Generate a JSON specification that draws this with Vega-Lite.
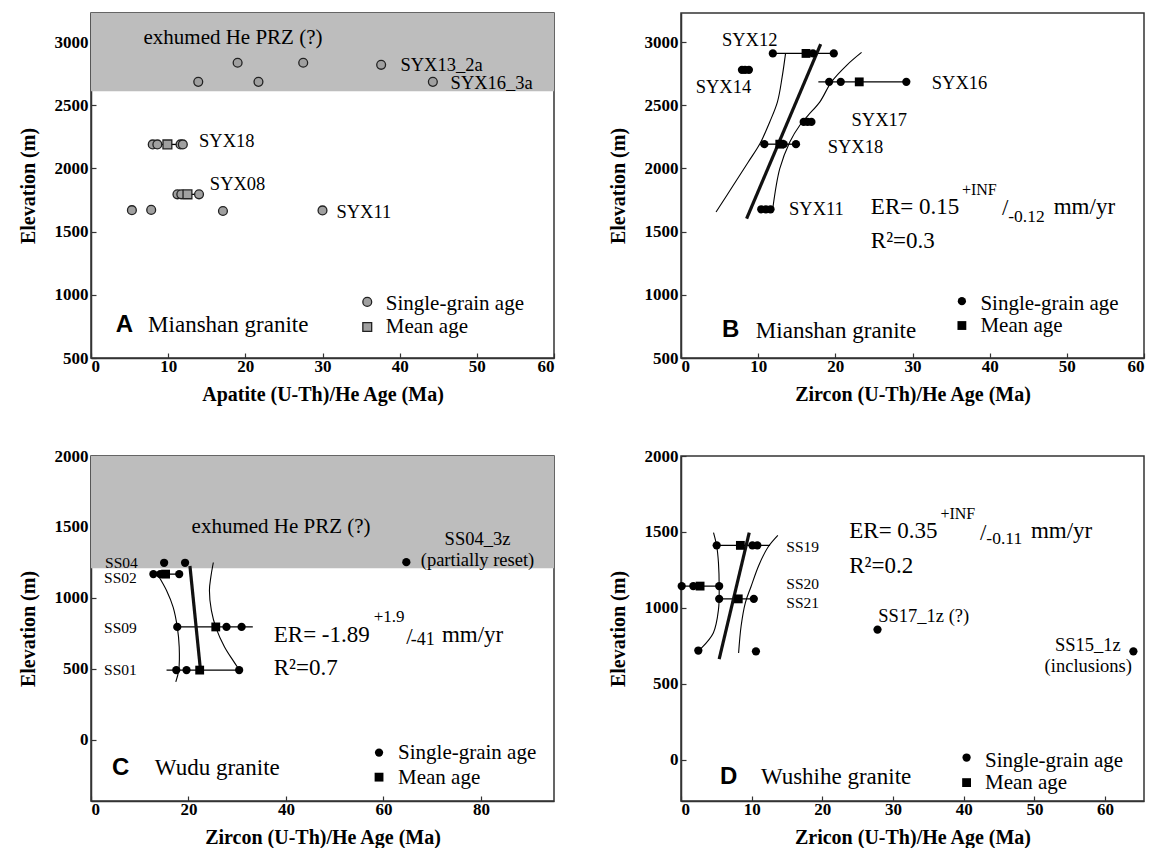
{
"$schema": "https://vega.github.io/schema/vega-lite/v6.json",
"padding": {"left": 17, "top": 12, "right": 0, "bottom": 0},
"background": "white",
"config": {
  "font": "Liberation Serif",
  "view": {"stroke": "#333", "strokeWidth": 1.5},
  "axis": {"grid": false, "format": "d", "labelFont": "Liberation Serif", "labelFontWeight": "bold", "labelFontSize": 17, "labelColor": "#000",
           "titleFont": "Liberation Serif", "titleFontWeight": "bold", "titleFontSize": 20, "titleColor": "#000",
           "domainColor": "#333", "domainWidth": 1.5, "tickColor": "#333", "tickSize": -5, "tickWidth": 1.2},
  "axisX": {"titlePadding": 10, "labelPadding": 5},
  "axisY": {"titlePadding": 16, "labelPadding": 8},
  "text": {"font": "Liberation Serif", "color": "#000"}
},
"datasets": {
  "A_band": [{"x": 0, "x2": 60, "y": 2610, "y2": 3230}],
  "A_seg": [{"x": 8.0, "x2": 11.9, "y": 2190}, {"x": 11.2, "x2": 14.0, "y": 1795}],
  "A_pts": [
    {"x": 19.0, "y": 2836, "k": "s"}, {"x": 27.5, "y": 2836, "k": "s"}, {"x": 37.6, "y": 2820, "k": "s"},
    {"x": 13.9, "y": 2685, "k": "s"}, {"x": 21.7, "y": 2685, "k": "s"}, {"x": 44.3, "y": 2685, "k": "s"},
    {"x": 8.0, "y": 2190, "k": "s"}, {"x": 8.6, "y": 2190, "k": "s"}, {"x": 11.6, "y": 2190, "k": "s"}, {"x": 11.9, "y": 2190, "k": "s"}, {"x": 9.9, "y": 2190, "k": "m"},
    {"x": 11.2, "y": 1795, "k": "s"}, {"x": 11.7, "y": 1795, "k": "s"}, {"x": 14.0, "y": 1795, "k": "s"}, {"x": 12.5, "y": 1795, "k": "m"},
    {"x": 5.3, "y": 1670, "k": "s"}, {"x": 7.8, "y": 1672, "k": "s"}, {"x": 17.1, "y": 1663, "k": "s"}, {"x": 30.0, "y": 1668, "k": "s"},
    {"x": 35.8, "y": 944, "k": "s"}, {"x": 35.8, "y": 745, "k": "m"}
  ],
  "A_txt": [
    {"x": 18.4, "y": 3029, "t": "exhumed He PRZ (?)", "r": "prz"},
    {"x": 40.1, "y": 2820, "t": "SYX13_2a", "r": "lab"},
    {"x": 46.6, "y": 2680, "t": "SYX16_3a", "r": "lab"},
    {"x": 14.0, "y": 2218, "t": "SYX18", "r": "lab"},
    {"x": 15.4, "y": 1877, "t": "SYX08", "r": "lab"},
    {"x": 31.8, "y": 1655, "t": "SYX11", "r": "lab"},
    {"x": 38.2, "y": 930, "t": "Single-grain age", "r": "leg"},
    {"x": 38.2, "y": 744, "t": "Mean age", "r": "leg"},
    {"x": 3.2, "y": 760, "t": "A", "r": "let"},
    {"x": 7.4, "y": 760, "t": "Mianshan granite", "r": "name"}
  ],
  "B_seg": [{"x": 11.9, "x2": 19.8, "y": 2910}, {"x": 17.8, "x2": 29.2, "y": 2685}, {"x": 10.8, "x2": 14.9, "y": 2192}],
  "B_thin": [
    {"id": "l", "x": 4.54, "y": 1655}, {"id": "l", "x": 6.78, "y": 1867}, {"id": "l", "x": 8.72, "y": 2051}, {"id": "l", "x": 10.24, "y": 2197},
    {"id": "l", "x": 11.5, "y": 2368}, {"id": "l", "x": 12.5, "y": 2527}, {"id": "l", "x": 13.1, "y": 2720}, {"id": "l", "x": 13.55, "y": 2910},
    {"id": "r", "x": 11.9, "y": 1685}, {"id": "r", "x": 12.8, "y": 1998}, {"id": "r", "x": 14.1, "y": 2210}, {"id": "r", "x": 15.4, "y": 2342},
    {"id": "r", "x": 16.5, "y": 2422}, {"id": "r", "x": 18.0, "y": 2527}, {"id": "r", "x": 19.5, "y": 2685}, {"id": "r", "x": 21.5, "y": 2818}, {"id": "r", "x": 23.4, "y": 2918}
  ],
  "B_thick": [{"x": 8.5, "y": 1602}, {"x": 18.1, "y": 2984}],
  "B_pts": [
    {"x": 11.9, "y": 2910, "k": "s"}, {"x": 17.1, "y": 2910, "k": "s"}, {"x": 19.8, "y": 2910, "k": "s"}, {"x": 16.2, "y": 2910, "k": "m"},
    {"x": 7.9, "y": 2780, "k": "s"}, {"x": 8.3, "y": 2780, "k": "s"}, {"x": 8.8, "y": 2780, "k": "s"},
    {"x": 19.2, "y": 2685, "k": "s"}, {"x": 20.7, "y": 2685, "k": "s"}, {"x": 29.2, "y": 2685, "k": "s"}, {"x": 23.1, "y": 2685, "k": "m"},
    {"x": 15.9, "y": 2368, "k": "s"}, {"x": 16.4, "y": 2368, "k": "s"}, {"x": 16.9, "y": 2368, "k": "s"},
    {"x": 10.8, "y": 2192, "k": "s"}, {"x": 13.3, "y": 2192, "k": "s"}, {"x": 14.9, "y": 2192, "k": "s"}, {"x": 12.8, "y": 2192, "k": "m"},
    {"x": 10.4, "y": 1677, "k": "s"}, {"x": 11.0, "y": 1677, "k": "s"}, {"x": 11.6, "y": 1677, "k": "s"},
    {"x": 36.4, "y": 950, "k": "s"}, {"x": 36.4, "y": 757, "k": "m"}
  ],
  "B_txt": [
    {"x": 8.9, "y": 3016, "t": "SYX12", "r": "labc"},
    {"x": 5.5, "y": 2646, "t": "SYX14", "r": "labc"},
    {"x": 32.5, "y": 2680, "t": "SYX16", "r": "lab"},
    {"x": 25.7, "y": 2384, "t": "SYX17", "r": "labc"},
    {"x": 22.6, "y": 2170, "t": "SYX18", "r": "labc"},
    {"x": 14.0, "y": 1677, "t": "SYX11", "r": "lab"},
    {"x": 24.6, "y": 1695, "t": "ER= 0.15", "r": "eq"},
    {"x": 36.4, "y": 1827, "t": "+INF", "r": "sup"},
    {"x": 41.6, "y": 1690, "t": "/", "r": "eq"},
    {"x": 42.4, "y": 1616, "t": "-0.12", "r": "sub"},
    {"x": 48.3, "y": 1695, "t": "mm/yr", "r": "eq"},
    {"x": 24.6, "y": 1425, "t": "R²=0.3", "r": "eq"},
    {"x": 38.8, "y": 929, "t": "Single-grain age", "r": "leg"},
    {"x": 38.8, "y": 752, "t": "Mean age", "r": "leg"},
    {"x": 5.3, "y": 720, "t": "B", "r": "let"},
    {"x": 9.7, "y": 712, "t": "Mianshan granite", "r": "name"}
  ],
  "C_band": [{"x": 0, "x2": 95, "y": 1210, "y2": 2000}],
  "C_seg": [{"x": 12.8, "x2": 18.1, "y": 1168}, {"x": 17.7, "x2": 33.2, "y": 796}, {"x": 15.5, "x2": 30.4, "y": 492}],
  "C_thin": [
    {"id": "l", "x": 13.6, "y": 1170}, {"id": "l", "x": 14.0, "y": 1147}, {"id": "l", "x": 15.5, "y": 1053}, {"id": "l", "x": 16.85, "y": 936},
    {"id": "l", "x": 17.7, "y": 796}, {"id": "l", "x": 18.1, "y": 655}, {"id": "l", "x": 18.0, "y": 492}, {"id": "l", "x": 17.4, "y": 409},
    {"id": "r", "x": 25.1, "y": 1250}, {"id": "r", "x": 24.6, "y": 1150}, {"id": "r", "x": 24.3, "y": 1053}, {"id": "r", "x": 24.7, "y": 913},
    {"id": "r", "x": 25.7, "y": 784}, {"id": "r", "x": 27.4, "y": 655}, {"id": "r", "x": 29.1, "y": 562}, {"id": "r", "x": 30.2, "y": 505}
  ],
  "C_thick": [{"x": 20.3, "y": 1225}, {"x": 22.5, "y": 480}],
  "C_pts": [
    {"x": 15.0, "y": 1248, "k": "s"}, {"x": 19.3, "y": 1248, "k": "s"},
    {"x": 12.8, "y": 1168, "k": "s"}, {"x": 14.2, "y": 1168, "k": "s"}, {"x": 18.1, "y": 1168, "k": "s"}, {"x": 15.3, "y": 1168, "k": "m"},
    {"x": 17.7, "y": 796, "k": "s"}, {"x": 27.8, "y": 796, "k": "s"}, {"x": 30.9, "y": 796, "k": "s"}, {"x": 25.6, "y": 796, "k": "m"},
    {"x": 17.5, "y": 492, "k": "s"}, {"x": 19.6, "y": 492, "k": "s"}, {"x": 30.4, "y": 492, "k": "s"}, {"x": 22.3, "y": 492, "k": "m"},
    {"x": 64.7, "y": 1252, "k": "s"},
    {"x": 59.1, "y": -89, "k": "s"}, {"x": 59.1, "y": -262, "k": "m"}
  ],
  "C_txt": [
    {"x": 39, "y": 1503, "t": "exhumed He PRZ (?)", "r": "prz"},
    {"x": 79.3, "y": 1418, "t": "SS04_3z", "r": "labc"},
    {"x": 79.3, "y": 1264, "t": "(partially reset)", "r": "labc"},
    {"x": 9.6, "y": 1248, "t": "SS04", "r": "smr"},
    {"x": 9.4, "y": 1144, "t": "SS02", "r": "smr"},
    {"x": 9.4, "y": 792, "t": "SS09", "r": "smr"},
    {"x": 9.4, "y": 496, "t": "SS01", "r": "smr"},
    {"x": 37.5, "y": 737, "t": "ER= -1.89", "r": "eq"},
    {"x": 58, "y": 866, "t": "+1.9", "r": "sup"},
    {"x": 64.7, "y": 725, "t": "/", "r": "eq"},
    {"x": 65.6, "y": 702, "t": "-41", "r": "sub"},
    {"x": 72, "y": 737, "t": "mm/yr", "r": "eq"},
    {"x": 37.5, "y": 510, "t": "R²=0.7", "r": "eq"},
    {"x": 63, "y": -94, "t": "Single-grain age", "r": "leg"},
    {"x": 63, "y": -269, "t": "Mean age", "r": "leg"},
    {"x": 4.3, "y": -199, "t": "C", "r": "let"},
    {"x": 13.1, "y": -199, "t": "Wudu granite", "r": "name"}
  ],
  "D_seg": [{"x": 5.05, "x2": 12.6, "y": 1412}, {"x": 0.1, "x2": 5.4, "y": 1144}, {"x": 5.4, "x2": 10.3, "y": 1060}],
  "D_thin": [
    {"id": "l", "x": 2.45, "y": 720}, {"id": "l", "x": 2.9, "y": 737}, {"id": "l", "x": 4.57, "y": 836}, {"id": "l", "x": 5.3, "y": 989}, {"id": "l", "x": 5.4, "y": 1144},
    {"id": "l", "x": 5.3, "y": 1297}, {"id": "l", "x": 5.05, "y": 1408}, {"id": "l", "x": 4.6, "y": 1496},
    {"id": "r", "x": 8.15, "y": 704}, {"id": "r", "x": 8.5, "y": 880}, {"id": "r", "x": 9.1, "y": 1034}, {"id": "r", "x": 9.9, "y": 1140},
    {"id": "r", "x": 11.0, "y": 1280}, {"id": "r", "x": 12.3, "y": 1400}, {"id": "r", "x": 13.7, "y": 1478}
  ],
  "D_thick": [{"x": 5.4, "y": 664}, {"x": 9.65, "y": 1496}],
  "D_pts": [
    {"x": 5.05, "y": 1412, "k": "s"}, {"x": 10.1, "y": 1412, "k": "s"}, {"x": 10.8, "y": 1412, "k": "s"}, {"x": 8.4, "y": 1412, "k": "m"},
    {"x": 0.1, "y": 1144, "k": "s"}, {"x": 1.74, "y": 1144, "k": "s"}, {"x": 5.4, "y": 1144, "k": "s"}, {"x": 2.7, "y": 1144, "k": "m"},
    {"x": 5.4, "y": 1060, "k": "s"}, {"x": 10.3, "y": 1060, "k": "s"}, {"x": 8.1, "y": 1060, "k": "m"},
    {"x": 2.45, "y": 720, "k": "s"}, {"x": 10.6, "y": 715, "k": "s"},
    {"x": 27.8, "y": 858, "k": "s"}, {"x": 64.0, "y": 715, "k": "s"},
    {"x": 40.4, "y": 16, "k": "s"}, {"x": 40.4, "y": -149, "k": "m"}
  ],
  "D_txt": [
    {"x": 14.9, "y": 1403, "t": "SS19", "r": "sm"},
    {"x": 14.9, "y": 1155, "t": "SS20", "r": "sm"},
    {"x": 14.9, "y": 1034, "t": "SS21", "r": "sm"},
    {"x": 27.9, "y": 950, "t": "SS17_1z (?)", "r": "lab"},
    {"x": 62.2, "y": 759, "t": "SS15_1z", "r": "labr"},
    {"x": 63.8, "y": 616, "t": "(inclusions)", "r": "labr"},
    {"x": 23.8, "y": 1506, "t": "ER= 0.35", "r": "eq"},
    {"x": 36.7, "y": 1616, "t": "+INF", "r": "sup"},
    {"x": 42.3, "y": 1495, "t": "/", "r": "eq"},
    {"x": 43.2, "y": 1451, "t": "-0.11", "r": "sub"},
    {"x": 49.5, "y": 1506, "t": "mm/yr", "r": "eq"},
    {"x": 23.8, "y": 1276, "t": "R²=0.2", "r": "eq"},
    {"x": 43, "y": -4, "t": "Single-grain age", "r": "leg"},
    {"x": 43, "y": -154, "t": "Mean age", "r": "leg"},
    {"x": 5.5, "y": -110, "t": "D", "r": "let"},
    {"x": 11.3, "y": -110, "t": "Wushihe granite", "r": "name"}
  ]
},
"concat": [
  {
    "width": 463, "height": 345,
    "encoding": {
      "x": {"field": "x", "type": "quantitative", "scale": {"domain": [0, 60], "nice": false, "zero": false}, "axis": {"values": [0, 10, 20, 30, 40, 50, 60], "title": "Apatite (U-Th)/He Age (Ma)"}},
      "y": {"field": "y", "type": "quantitative", "scale": {"domain": [500, 3230], "nice": false, "zero": false}, "axis": {"values": [500, 1000, 1500, 2000, 2500, 3000], "title": "Elevation (m)"}}
    },
    "layer": [
      {"data": {"name": "A_band"}, "mark": {"type": "rect", "color": "#bdbdbd"}, "encoding": {"x2": {"field": "x2"}, "y2": {"field": "y2"}}},
      {"data": {"name": "A_seg"}, "mark": {"type": "rule", "color": "#000", "strokeWidth": 1.3}, "encoding": {"x2": {"field": "x2"}}},
      {"data": {"name": "A_pts"}, "transform": [{"filter": "datum.k === 's'"}], "mark": {"type": "circle", "size": 78, "fill": "#a0a0a0", "stroke": "#222", "strokeWidth": 1.3, "opacity": 1}},
      {"data": {"name": "A_pts"}, "transform": [{"filter": "datum.k === 'm'"}], "mark": {"type": "square", "size": 78, "fill": "#a0a0a0", "stroke": "#222", "strokeWidth": 1.3, "opacity": 1}},
      {"data": {"name": "A_txt"}, "transform": [{"filter": "datum.r === 'prz'"}], "mark": {"type": "text", "fontSize": 21, "align": "center", "baseline": "middle"}, "encoding": {"text": {"field": "t"}}},
      {"data": {"name": "A_txt"}, "transform": [{"filter": "datum.r === 'lab'"}], "mark": {"type": "text", "fontSize": 18.5, "align": "left", "baseline": "middle"}, "encoding": {"text": {"field": "t"}}},
      {"data": {"name": "A_txt"}, "transform": [{"filter": "datum.r === 'leg'"}], "mark": {"type": "text", "fontSize": 21, "align": "left", "baseline": "middle"}, "encoding": {"text": {"field": "t"}}},
      {"data": {"name": "A_txt"}, "transform": [{"filter": "datum.r === 'name'"}], "mark": {"type": "text", "fontSize": 23, "align": "left", "baseline": "middle"}, "encoding": {"text": {"field": "t"}}},
      {"data": {"name": "A_txt"}, "transform": [{"filter": "datum.r === 'let'"}], "mark": {"type": "text", "font": "Liberation Sans", "fontWeight": "bold", "fontSize": 24, "align": "left", "baseline": "middle"}, "encoding": {"text": {"field": "t"}}}
    ]
  },
  {
    "width": 463, "height": 345,
    "encoding": {
      "x": {"field": "x", "type": "quantitative", "scale": {"domain": [0, 60], "nice": false, "zero": false}, "axis": {"values": [0, 10, 20, 30, 40, 50, 60], "title": "Zircon (U-Th)/He Age (Ma)"}},
      "y": {"field": "y", "type": "quantitative", "scale": {"domain": [500, 3230], "nice": false, "zero": false}, "axis": {"values": [500, 1000, 1500, 2000, 2500, 3000], "title": "Elevation (m)"}}
    },
    "layer": [
      {"data": {"name": "B_seg"}, "mark": {"type": "rule", "color": "#000", "strokeWidth": 1.3}, "encoding": {"x2": {"field": "x2"}}},
      {"data": {"name": "B_thin"}, "mark": {"type": "line", "color": "#000", "strokeWidth": 1.1, "interpolate": "catmull-rom"}, "encoding": {"detail": {"field": "id"}, "order": {"field": "y", "type": "quantitative"}}},
      {"data": {"name": "B_thick"}, "mark": {"type": "line", "color": "#111", "strokeWidth": 3.2}, "encoding": {"order": {"field": "y", "type": "quantitative"}}},
      {"data": {"name": "B_pts"}, "transform": [{"filter": "datum.k === 's'"}], "mark": {"type": "circle", "size": 68, "color": "#000", "opacity": 1}},
      {"data": {"name": "B_pts"}, "transform": [{"filter": "datum.k === 'm'"}], "mark": {"type": "square", "size": 78, "color": "#000", "opacity": 1}},
      {"data": {"name": "B_txt"}, "transform": [{"filter": "datum.r === 'lab'"}], "mark": {"type": "text", "fontSize": 18.5, "align": "left", "baseline": "middle"}, "encoding": {"text": {"field": "t"}}},
      {"data": {"name": "B_txt"}, "transform": [{"filter": "datum.r === 'labc'"}], "mark": {"type": "text", "fontSize": 18.5, "align": "center", "baseline": "middle"}, "encoding": {"text": {"field": "t"}}},
      {"data": {"name": "B_txt"}, "transform": [{"filter": "datum.r === 'eq'"}], "mark": {"type": "text", "fontSize": 23, "align": "left", "baseline": "middle"}, "encoding": {"text": {"field": "t"}}},
      {"data": {"name": "B_txt"}, "transform": [{"filter": "datum.r === 'sup'"}], "mark": {"type": "text", "fontSize": 16, "align": "left", "baseline": "middle"}, "encoding": {"text": {"field": "t"}}},
      {"data": {"name": "B_txt"}, "transform": [{"filter": "datum.r === 'sub'"}], "mark": {"type": "text", "fontSize": 17.5, "align": "left", "baseline": "middle"}, "encoding": {"text": {"field": "t"}}},
      {"data": {"name": "B_txt"}, "transform": [{"filter": "datum.r === 'leg'"}], "mark": {"type": "text", "fontSize": 21, "align": "left", "baseline": "middle"}, "encoding": {"text": {"field": "t"}}},
      {"data": {"name": "B_txt"}, "transform": [{"filter": "datum.r === 'name'"}], "mark": {"type": "text", "fontSize": 23, "align": "left", "baseline": "middle"}, "encoding": {"text": {"field": "t"}}},
      {"data": {"name": "B_txt"}, "transform": [{"filter": "datum.r === 'let'"}], "mark": {"type": "text", "font": "Liberation Sans", "fontWeight": "bold", "fontSize": 24, "align": "left", "baseline": "middle"}, "encoding": {"text": {"field": "t"}}}
    ]
  },
  {
    "width": 463, "height": 345,
    "encoding": {
      "x": {"field": "x", "type": "quantitative", "scale": {"domain": [0, 95], "nice": false, "zero": false}, "axis": {"values": [0, 20, 40, 60, 80], "title": "Zircon (U-Th)/He Age (Ma)"}},
      "y": {"field": "y", "type": "quantitative", "scale": {"domain": [-430, 2000], "nice": false, "zero": false}, "axis": {"values": [0, 500, 1000, 1500, 2000], "title": "Elevation (m)"}}
    },
    "layer": [
      {"data": {"name": "C_band"}, "mark": {"type": "rect", "color": "#bdbdbd"}, "encoding": {"x2": {"field": "x2"}, "y2": {"field": "y2"}}},
      {"data": {"name": "C_seg"}, "mark": {"type": "rule", "color": "#000", "strokeWidth": 1.3}, "encoding": {"x2": {"field": "x2"}}},
      {"data": {"name": "C_thin"}, "mark": {"type": "line", "color": "#000", "strokeWidth": 1.1, "interpolate": "catmull-rom"}, "encoding": {"detail": {"field": "id"}, "order": {"field": "y", "type": "quantitative"}}},
      {"data": {"name": "C_thick"}, "mark": {"type": "line", "color": "#111", "strokeWidth": 3.2}, "encoding": {"order": {"field": "y", "type": "quantitative"}}},
      {"data": {"name": "C_pts"}, "transform": [{"filter": "datum.k === 's'"}], "mark": {"type": "circle", "size": 68, "color": "#000", "opacity": 1}},
      {"data": {"name": "C_pts"}, "transform": [{"filter": "datum.k === 'm'"}], "mark": {"type": "square", "size": 78, "color": "#000", "opacity": 1}},
      {"data": {"name": "C_txt"}, "transform": [{"filter": "datum.r === 'prz'"}], "mark": {"type": "text", "fontSize": 21, "align": "center", "baseline": "middle"}, "encoding": {"text": {"field": "t"}}},
      {"data": {"name": "C_txt"}, "transform": [{"filter": "datum.r === 'labc'"}], "mark": {"type": "text", "fontSize": 18.5, "align": "center", "baseline": "middle"}, "encoding": {"text": {"field": "t"}}},
      {"data": {"name": "C_txt"}, "transform": [{"filter": "datum.r === 'smr'"}], "mark": {"type": "text", "fontSize": 15.5, "align": "right", "baseline": "middle"}, "encoding": {"text": {"field": "t"}}},
      {"data": {"name": "C_txt"}, "transform": [{"filter": "datum.r === 'eq'"}], "mark": {"type": "text", "fontSize": 23, "align": "left", "baseline": "middle"}, "encoding": {"text": {"field": "t"}}},
      {"data": {"name": "C_txt"}, "transform": [{"filter": "datum.r === 'sup'"}], "mark": {"type": "text", "fontSize": 17, "align": "left", "baseline": "middle"}, "encoding": {"text": {"field": "t"}}},
      {"data": {"name": "C_txt"}, "transform": [{"filter": "datum.r === 'sub'"}], "mark": {"type": "text", "fontSize": 18, "align": "left", "baseline": "middle"}, "encoding": {"text": {"field": "t"}}},
      {"data": {"name": "C_txt"}, "transform": [{"filter": "datum.r === 'leg'"}], "mark": {"type": "text", "fontSize": 21, "align": "left", "baseline": "middle"}, "encoding": {"text": {"field": "t"}}},
      {"data": {"name": "C_txt"}, "transform": [{"filter": "datum.r === 'name'"}], "mark": {"type": "text", "fontSize": 23, "align": "left", "baseline": "middle"}, "encoding": {"text": {"field": "t"}}},
      {"data": {"name": "C_txt"}, "transform": [{"filter": "datum.r === 'let'"}], "mark": {"type": "text", "font": "Liberation Sans", "fontWeight": "bold", "fontSize": 24, "align": "left", "baseline": "middle"}, "encoding": {"text": {"field": "t"}}}
    ]
  },
  {
    "width": 463, "height": 345,
    "encoding": {
      "x": {"field": "x", "type": "quantitative", "scale": {"domain": [0, 65.5], "nice": false, "zero": false}, "axis": {"values": [0, 10, 20, 30, 40, 50, 60], "title": "Zricon (U-Th)/He Age (Ma)"}},
      "y": {"field": "y", "type": "quantitative", "scale": {"domain": [-270, 2000], "nice": false, "zero": false}, "axis": {"values": [0, 500, 1000, 1500, 2000], "title": "Elevation (m)"}}
    },
    "layer": [
      {"data": {"name": "D_seg"}, "mark": {"type": "rule", "color": "#000", "strokeWidth": 1.3}, "encoding": {"x2": {"field": "x2"}}},
      {"data": {"name": "D_thin"}, "mark": {"type": "line", "color": "#000", "strokeWidth": 1.1, "interpolate": "catmull-rom"}, "encoding": {"detail": {"field": "id"}, "order": {"field": "y", "type": "quantitative"}}},
      {"data": {"name": "D_thick"}, "mark": {"type": "line", "color": "#111", "strokeWidth": 3.2}, "encoding": {"order": {"field": "y", "type": "quantitative"}}},
      {"data": {"name": "D_pts"}, "transform": [{"filter": "datum.k === 's'"}], "mark": {"type": "circle", "size": 68, "color": "#000", "opacity": 1}},
      {"data": {"name": "D_pts"}, "transform": [{"filter": "datum.k === 'm'"}], "mark": {"type": "square", "size": 78, "color": "#000", "opacity": 1}},
      {"data": {"name": "D_txt"}, "transform": [{"filter": "datum.r === 'sm'"}], "mark": {"type": "text", "fontSize": 15.5, "align": "left", "baseline": "middle"}, "encoding": {"text": {"field": "t"}}},
      {"data": {"name": "D_txt"}, "transform": [{"filter": "datum.r === 'lab'"}], "mark": {"type": "text", "fontSize": 18.5, "align": "left", "baseline": "middle"}, "encoding": {"text": {"field": "t"}}},
      {"data": {"name": "D_txt"}, "transform": [{"filter": "datum.r === 'labr'"}], "mark": {"type": "text", "fontSize": 18.5, "align": "right", "baseline": "middle"}, "encoding": {"text": {"field": "t"}}},
      {"data": {"name": "D_txt"}, "transform": [{"filter": "datum.r === 'eq'"}], "mark": {"type": "text", "fontSize": 23, "align": "left", "baseline": "middle"}, "encoding": {"text": {"field": "t"}}},
      {"data": {"name": "D_txt"}, "transform": [{"filter": "datum.r === 'sup'"}], "mark": {"type": "text", "fontSize": 16, "align": "left", "baseline": "middle"}, "encoding": {"text": {"field": "t"}}},
      {"data": {"name": "D_txt"}, "transform": [{"filter": "datum.r === 'sub'"}], "mark": {"type": "text", "fontSize": 17.5, "align": "left", "baseline": "middle"}, "encoding": {"text": {"field": "t"}}},
      {"data": {"name": "D_txt"}, "transform": [{"filter": "datum.r === 'leg'"}], "mark": {"type": "text", "fontSize": 21, "align": "left", "baseline": "middle"}, "encoding": {"text": {"field": "t"}}},
      {"data": {"name": "D_txt"}, "transform": [{"filter": "datum.r === 'name'"}], "mark": {"type": "text", "fontSize": 23, "align": "left", "baseline": "middle"}, "encoding": {"text": {"field": "t"}}},
      {"data": {"name": "D_txt"}, "transform": [{"filter": "datum.r === 'let'"}], "mark": {"type": "text", "font": "Liberation Sans", "fontWeight": "bold", "fontSize": 24, "align": "left", "baseline": "middle"}, "encoding": {"text": {"field": "t"}}}
    ]
  }
],
"columns": 2,
"spacing": {"row": 98, "column": 127},
"bounds": "flush"
}
